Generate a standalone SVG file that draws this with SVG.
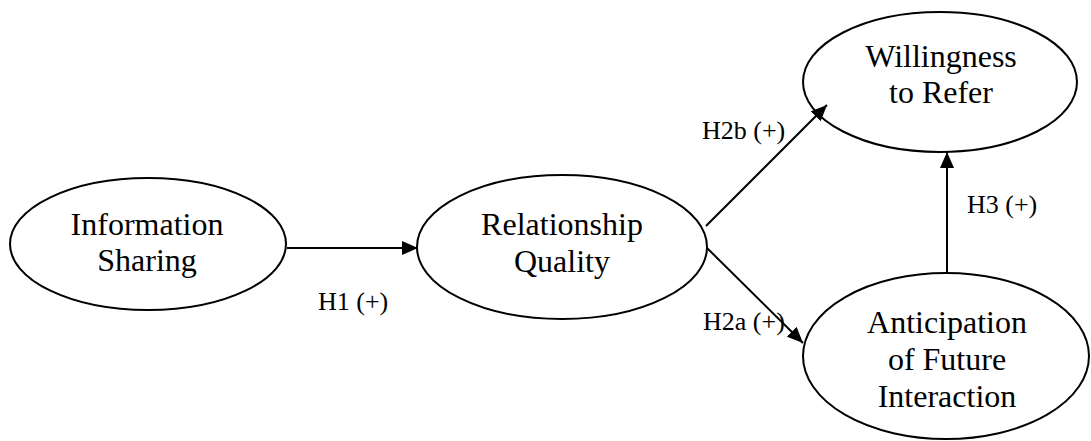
<svg xmlns="http://www.w3.org/2000/svg" width="1091" height="441" viewBox="0 0 1091 441">
<style>
.n{fill:#fff;stroke:#000;stroke-width:2}
.t{font-family:"Liberation Serif",serif;font-size:32px;fill:#000;text-anchor:middle}
.l{font-family:"Liberation Serif",serif;font-size:26px;fill:#000}
.c{stroke:#000;stroke-width:2;fill:none;marker-end:url(#ah)}
</style>
<defs>
<marker id="ah" viewBox="0 0 16 14" refX="16" refY="7" markerWidth="16" markerHeight="14" markerUnits="userSpaceOnUse" orient="auto">
<path d="M0,0 L16,7 L0,14 Z" fill="#000"/>
</marker>
</defs>
<g id="info-sharing">
<ellipse class="n" cx="148" cy="244" rx="138" ry="66"/>
<text class="t" x="147" y="235">Information</text>
<text class="t" x="147" y="271">Sharing</text>
</g>
<g id="relationship-quality">
<ellipse class="n" cx="562" cy="247" rx="145" ry="72"/>
<text class="t" x="562" y="235">Relationship</text>
<text class="t" x="562" y="272">Quality</text>
</g>
<g id="willingness">
<ellipse class="n" cx="940" cy="82" rx="137" ry="70"/>
<text class="t" x="941" y="67">Willingness</text>
<text class="t" x="941" y="103">to Refer</text>
</g>
<g id="anticipation">
<ellipse class="n" cx="946" cy="356" rx="143" ry="83"/>
<text class="t" x="947" y="333">Anticipation</text>
<text class="t" x="947" y="370">of Future</text>
<text class="t" x="947" y="407">Interaction</text>
</g>
<g id="connectors">
<line class="c" x1="287" y1="248" x2="418" y2="248"/>
<line class="c" x1="706" y1="226" x2="827" y2="105"/>
<line class="c" x1="707" y1="248" x2="803" y2="343"/>
<line class="c" x1="947" y1="273" x2="947" y2="152"/>
</g>
<g id="labels">
<text class="l" x="318" y="310">H1 (+)</text>
<text class="l" x="702" y="139">H2b (+)</text>
<text class="l" x="967" y="213">H3 (+)</text>
<text class="l" x="703" y="330">H2a (+)</text>
</g>
</svg>
